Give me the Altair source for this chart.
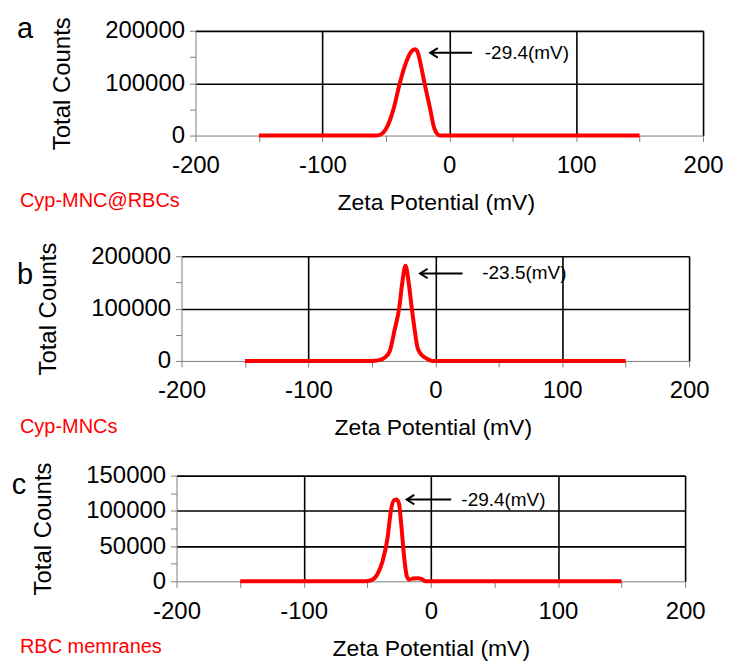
import altair as alt
import pandas as pd

FONT = "Liberation Sans, Arial, Helvetica, sans-serif"
GRAY = "#808080"
RED = "#ff0000"

# ---------------- data ----------------
a_zeta = [-150, -58, -54, -50, -44, -39, -34, -30, -27, -25, -22, -19.5, -15, -12, -9, -7, 150]
a_counts = [0, 0, 2000, 12000, 50000, 100000, 140000, 160000, 165000, 160000, 130000, 100000, 50000, 15000, 2000, 0, 0]

b_zeta = [-150, -50, -45, -40, -36, -32, -28.5, -26, -23.5, -21, -18.5, -16, -14, -11, -7, -2, 150]
b_counts = [0, 0, 1000, 6000, 18000, 60000, 100000, 150000, 182000, 150000, 100000, 55000, 25000, 12000, 5000, 0, 0]

c_zeta = [-150, -52, -47, -42, -38, -34, -31.5, -29, -27, -25, -23.5, -21, -19, -17, -14, -10, -7, -4, 150]
c_counts = [0, 0, 1500, 10000, 28000, 62000, 99000, 115000, 116000, 110000, 85000, 35000, 8000, 2500, 4000, 4500, 3000, 0, 0]

letters = ["a", "b", "c"]
samples = ["Cyp-MNC@RBCs", "Cyp-MNCs", "RBC memranes"]
ann_text = ["-29.4(mV)", "-23.5(mV)", "-29.4(mV)"]
ann_head_x = [-15, -12, -19]
ann_tail_x = [18, 21.5, 16]
ann_text_x = [28, 37, 24]
ann_y = [158000, 167000, 116000]

x_ticks = [-200, -150, -100, -50, 0, 50, 100, 150, 200]
y_max = [200000, 200000, 150000]
y_tick_step = [50000, 50000, 25000]
y_label_step = [100000, 100000, 50000]

zetas = [a_zeta, b_zeta, c_zeta]
counts = [a_counts, b_counts, c_counts]

# ---------------- layout (pixels) ----------------
origin_x = [197, 183, 178]
widths = [509, 509, 510]
heights = [105, 105, 106]
top_anchor = [-21, -30, -26]
bottom_anchor = [194, 192, None]
letter_pos = [(-171, -1.5), (-157, 19), (-158, 9.5)]
xtitle_x = [241, 252, 255]


def make_panel(i):
    w, h = widths[i], heights[i]
    curve = pd.DataFrame({"zeta": zetas[i], "counts": counts[i]})
    ann = pd.DataFrame({
        "head": [ann_head_x[i]], "tail": [ann_tail_x[i]], "yv": [ann_y[i]],
        "tx": [ann_text_x[i]], "label": [ann_text[i]],
    })
    labs = pd.DataFrame({"letter": [letters[i]], "sample": [samples[i]]})

    xs = alt.Scale(domain=[-200, 200], nice=False, zero=False)
    ys = alt.Scale(domain=[0, y_max[i]], nice=False)
    yt = list(range(0, y_max[i] + 1, y_tick_step[i]))
    ls = y_label_step[i]

    x_axis = alt.Axis(
        values=x_ticks,
        labelExpr="datum.value % 100 === 0 ? '' + datum.value : ''",
        labelFont=FONT, labelFontSize=24, labelColor="black", labelPadding=12,
        labelFlush=False, labelOverlap=False,
        title="Zeta Potential (mV)", titleFont=FONT, titleFontSize=23,
        titleFontWeight="normal", titleColor="black",
        titleX=xtitle_x[i], titleY=67, titleAlign="center", titleBaseline="middle",
        domainColor=GRAY, domainWidth=1, tickColor=GRAY, tickSize=6, tickWidth=1,
        grid=True, gridColor="black", gridWidth=1.6,
        gridOpacity={"condition": {"test": "datum.value % 100 === 0 && datum.value > -200", "value": 1}, "value": 0},
    )
    y_axis = alt.Axis(
        values=yt,
        labelExpr=f"datum.value % {ls} === 0 ? '' + datum.value : ''",
        labelFont=FONT, labelFontSize=24, labelColor="black", labelPadding=5,
        labelFlush=False, labelOverlap=False,
        title="Total Counts", titleFont=FONT, titleFontSize=24,
        titleFontWeight="normal", titleColor="black",
        titleX=-133, titleY=h / 2, titleAngle=270, titleAlign="center", titleBaseline="middle",
        domainColor=GRAY, domainWidth=1, tickColor=GRAY, tickSize=6, tickWidth=1,
        grid=True, gridColor="black", gridWidth=1.6,
        gridOpacity={"condition": {"test": f"datum.value % {ls} === 0 && datum.value > 0", "value": 1}, "value": 0},
    )

    line = alt.Chart(curve).mark_line(
        color=RED, strokeWidth=4, interpolate="monotone", strokeCap="butt"
    ).encode(
        x=alt.X("zeta:Q", scale=xs, axis=x_axis),
        y=alt.Y("counts:Q", scale=ys, axis=y_axis),
    )
    rule = alt.Chart(ann).mark_rule(color="black", strokeWidth=2).encode(
        x=alt.X("head:Q", scale=xs, axis=x_axis),
        x2="tail:Q",
        y=alt.Y("yv:Q", scale=ys, axis=y_axis),
    )
    head = alt.Chart(ann).mark_point(
        shape="M 1.6 -1 L 0 0 L 1.6 1", filled=False, color="black",
        strokeWidth=2, size=90, opacity=1
    ).encode(
        x=alt.X("head:Q", scale=xs, axis=x_axis),
        y=alt.Y("yv:Q", scale=ys, axis=y_axis),
    )
    txt = alt.Chart(ann).mark_text(
        align="left", baseline="middle", font=FONT, fontSize=19, color="black"
    ).encode(
        x=alt.X("tx:Q", scale=xs, axis=x_axis),
        y=alt.Y("yv:Q", scale=ys, axis=y_axis),
        text="label:N",
    )
    lx, ly = letter_pos[i]
    letter = alt.Chart(labs).mark_text(
        align="center", baseline="middle", font=FONT, fontSize=29, color="black"
    ).encode(x=alt.value(lx), y=alt.value(ly), text="letter:N")
    sample = alt.Chart(labs).mark_text(
        align="left", baseline="middle", font=FONT, fontSize=20, color=RED
    ).encode(x=alt.value(21 - origin_x[i]), y=alt.value(h + 66), text="sample:N")

    layers = [line, rule, head, txt, letter, sample]
    left = 12 - origin_x[i]
    layers.append(
        alt.Chart(labs).mark_point(size=1, opacity=0).encode(
            x=alt.value(left), y=alt.value(top_anchor[i]))
    )
    if bottom_anchor[i] is not None:
        layers.append(
            alt.Chart(labs).mark_point(size=1, opacity=0).encode(
                x=alt.value(left), y=alt.value(bottom_anchor[i]))
        )
    panel = alt.layer(*layers).properties(width=w, height=h)
    spacer = alt.Chart(labs).mark_point(size=1, opacity=0).encode(
        x=alt.value(0), y=alt.value(0)
    ).properties(width=1, height=1)
    # spacer in column 0 so the panel's own left extent sets its offset
    return alt.hconcat(spacer, panel, spacing=0)


chart = alt.vconcat(make_panel(0), make_panel(1), make_panel(2), spacing=0).properties(
    padding=0, background="white"
).configure_view(stroke=None)

chart.save("out.html", embed_options={"renderer": "svg", "actions": False})
